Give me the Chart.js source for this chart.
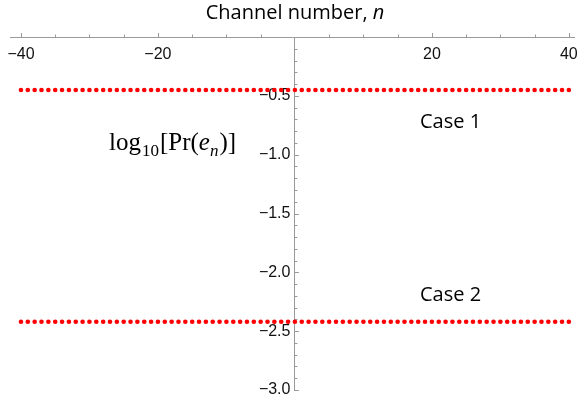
<!DOCTYPE html>
<html>
<head>
<meta charset="utf-8">
<script src="https://cdn.jsdelivr.net/npm/chart.js@4.4.1/dist/chart.umd.min.js"></script>
<style>
  html, body { margin: 0; padding: 0; background: #fff; }
  #wrap { width: 578px; height: 409px; }
</style>
</head>
<body>
<div id="wrap"><canvas id="chart" width="578" height="409"></canvas></div>
<script>
/*=============== DATA ===============*/
const channels = [-40,-39,-38,-37,-36,-35,-34,-33,-32,-31,-30,-29,-28,-27,-26,-25,-24,-23,-22,-21,
  -20,-19,-18,-17,-16,-15,-14,-13,-12,-11,-10,-9,-8,-7,-6,-5,-4,-3,-2,-1,0,
  1,2,3,4,5,6,7,8,9,10,11,12,13,14,15,16,17,18,19,20,
  21,22,23,24,25,26,27,28,29,30,31,32,33,34,35,36,37,38,39,40]

// log10[Pr(e_n)] for each channel
const case1 = [-0.45,-0.45,-0.45,-0.45,-0.45,-0.45,-0.45,-0.45,-0.45,-0.45,-0.45,-0.45,-0.45,-0.45,-0.45,-0.45,-0.45,-0.45,-0.45,-0.45,
  -0.45,-0.45,-0.45,-0.45,-0.45,-0.45,-0.45,-0.45,-0.45,-0.45,-0.45,-0.45,-0.45,-0.45,-0.45,-0.45,-0.45,-0.45,-0.45,-0.45,-0.45,
  -0.45,-0.45,-0.45,-0.45,-0.45,-0.45,-0.45,-0.45,-0.45,-0.45,-0.45,-0.45,-0.45,-0.45,-0.45,-0.45,-0.45,-0.45,-0.45,-0.45,
  -0.45,-0.45,-0.45,-0.45,-0.45,-0.45,-0.45,-0.45,-0.45,-0.45,-0.45,-0.45,-0.45,-0.45,-0.45,-0.45,-0.45,-0.45,-0.45,-0.45]

const case2 = [-2.42,-2.42,-2.42,-2.42,-2.42,-2.42,-2.42,-2.42,-2.42,-2.42,-2.42,-2.42,-2.42,-2.42,-2.42,-2.42,-2.42,-2.42,-2.42,-2.42,
  -2.42,-2.42,-2.42,-2.42,-2.42,-2.42,-2.42,-2.42,-2.42,-2.42,-2.42,-2.42,-2.42,-2.42,-2.42,-2.42,-2.42,-2.42,-2.42,-2.42,-2.42,
  -2.42,-2.42,-2.42,-2.42,-2.42,-2.42,-2.42,-2.42,-2.42,-2.42,-2.42,-2.42,-2.42,-2.42,-2.42,-2.42,-2.42,-2.42,-2.42,-2.42,
  -2.42,-2.42,-2.42,-2.42,-2.42,-2.42,-2.42,-2.42,-2.42,-2.42,-2.42,-2.42,-2.42,-2.42,-2.42,-2.42,-2.42,-2.42,-2.42,-2.42]

// tick labels (0 is left out where the axes cross)
const xTicks = [-40, -20, 20, 40]
const yTicks = [-3.0, -2.5, -2.0, -1.5, -1.0, -0.5]
const xMinor = [-35, -30, -25, -15, -10, -5, 5, 10, 15, 25, 30, 35]
const yMinor = [-2.9, -2.8, -2.7, -2.6, -2.4, -2.3, -2.2, -2.1, -1.9, -1.8, -1.7, -1.6,
  -1.4, -1.3, -1.2, -1.1, -0.9, -0.8, -0.7, -0.6, -0.4, -0.3, -0.2, -0.1]

const toPoints = (xs, ys) => xs.map((x, i) => ({ x: x, y: ys[i] }))
const minus = (v, digits) => (v < 0 ? '\u2212' : '') + Math.abs(v).toFixed(digits)

/*=============== AXIS TICKS (Mathematica style) ===============*/
const axisTicks = {
  id: 'axisTicks',
  beforeDatasetsDraw(chart) {
    const {ctx, scales: {x, y}} = chart
    const x0 = x.getPixelForValue(0),
          y0 = y.getPixelForValue(0)
    ctx.save()
    ctx.strokeStyle = '#9a9a9a'
    ctx.lineWidth = 1
    ctx.beginPath()
    // x axis ticks point up
    xTicks.forEach(v => {
      const px = Math.round(x.getPixelForValue(v)) + 0.5
      ctx.moveTo(px, y0); ctx.lineTo(px, y0 - 4)
    })
    xMinor.forEach(v => {
      const px = Math.round(x.getPixelForValue(v)) + 0.5
      ctx.moveTo(px, y0); ctx.lineTo(px, y0 - 2.5)
    })
    // y axis ticks point right
    yTicks.forEach(v => {
      const py = Math.round(y.getPixelForValue(v)) + 0.5
      ctx.moveTo(x0, py); ctx.lineTo(x0 + 4, py)
    })
    yMinor.forEach(v => {
      const py = Math.round(y.getPixelForValue(v)) + 0.5
      ctx.moveTo(x0, py); ctx.lineTo(x0 + 2.5, py)
    })
    ctx.stroke()
    ctx.restore()
  }
}

/*=============== TEXTS ===============*/
const labels = {
  id: 'labels',
  afterDraw(chart) {
    const ctx = chart.ctx
    ctx.save()
    ctx.fillStyle = '#000'
    ctx.textBaseline = 'alphabetic'

    // axis title on top
    const t1 = 'Channel number, '
    ctx.font = 'italic 20px "Open Sans"'
    const wN = ctx.measureText('n').width
    ctx.font = '20px "Open Sans"'
    const w1 = ctx.measureText(t1).width
    let tx = 295 - (w1 + wN) / 2
    ctx.fillText(t1, tx, 19)
    ctx.font = 'italic 20px "Open Sans"'
    ctx.fillText('n', tx + w1, 19)

    // case labels
    ctx.font = '20px "Open Sans"'
    ctx.fillText('Case 1', 420, 128)
    ctx.fillText('Case 2', 420, 301)

    // log10[Pr(e_n)]
    const parts = [
      ['log', '25px "Liberation Serif"', 0, 1],
      ['10', '17px "Liberation Serif"', 6, 1],
      ['[Pr(', '25px "Liberation Serif"', 0, 0],
      ['e', 'italic 25px "Liberation Serif"', 0, 0],
      ['n', 'italic 17px "Liberation Serif"', 6, 1],
      [')]', '25px "Liberation Serif"', 0, 0]
    ]
    let lx = 109
    parts.forEach(([txt, font, dy, gap]) => {
      ctx.font = font
      ctx.fillText(txt, lx, 150 + dy)
      lx += ctx.measureText(txt).width + gap
    })
    ctx.restore()
  }
}

/*=============== CHART ===============*/
const tickFont = { family: '"Liberation Sans", Arial', size: 16 }

new Chart(document.getElementById('chart'), {
  type: 'scatter',
  data: {
    datasets: [
      {
        label: 'Case 1',
        data: toPoints(channels, case1),
        backgroundColor: '#ff0000',
        borderWidth: 0,
        pointRadius: 2.3
      },
      {
        label: 'Case 2',
        data: toPoints(channels, case2),
        backgroundColor: '#ff0000',
        borderWidth: 0,
        pointRadius: 2.3
      }
    ]
  },
  options: {
    responsive: false,
    animation: false,
    layout: { padding: { left: 10, right: 0, top: 37, bottom: 19 } },
    scales: {
      x: {
        type: 'linear',
        position: { y: 0 },
        min: -41.6,
        max: 40.75,
        afterBuildTicks: axis => { axis.ticks = xTicks.map(v => ({ value: v })) },
        afterFit: axis => {
          axis.height = 0
          axis.paddingLeft = 0
          axis.paddingRight = 0
        },
        grid: { display: false, drawTicks: false, tickLength: 0 },
        border: { display: true, color: '#9a9a9a', width: 1 },
        ticks: {
          color: '#111',
          font: tickFont,
          padding: 8,
          maxRotation: 0,
          autoSkip: false,
          callback: v => minus(v, 0)
        }
      },
      y: {
        type: 'linear',
        position: { x: 0 },
        min: -3,
        max: 0,
        afterBuildTicks: axis => { axis.ticks = yTicks.map(v => ({ value: v })) },
        afterFit: axis => {
          axis.width = 0
          axis.paddingTop = 0
          axis.paddingBottom = 0
        },
        grid: { display: false, drawTicks: false, tickLength: 0 },
        border: { display: true, color: '#9a9a9a', width: 1 },
        ticks: {
          color: '#111',
          font: tickFont,
          autoSkip: false,
          // trailing space keeps the label clear of the axis line
          callback: v => minus(v, 1) + ' '
        }
      }
    },
    plugins: {
      legend: { display: false },
      tooltip: { enabled: false }
    }
  },
  plugins: [axisTicks, labels]
})
</script>
</body>
</html>
